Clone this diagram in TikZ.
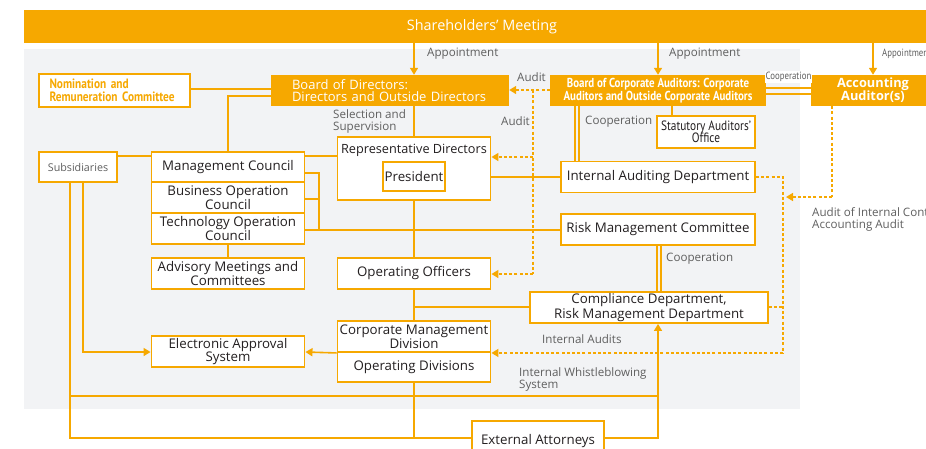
\documentclass[tikz,border=0pt]{standalone}
\usepackage{fontspec}
\setmainfont{Open Sans}
\newfontfamily\condfont[FakeStretch=0.84]{PT Sans}
\usetikzlibrary{arrows.meta,calc}
\definecolor{org}{RGB}{246,168,0}
\definecolor{bgc}{RGB}{242,243,245}
\definecolor{txt}{RGB}{35,31,32}
\definecolor{lblg}{RGB}{95,95,95}
\pgfdeclarelayer{bgl}
\pgfdeclarelayer{lines}
\pgfsetlayers{bgl,lines,main}
\tikzset{
  box/.style={draw=org, line width=1.9pt, fill=white, text=txt, align=center, inner sep=0pt,
    font=\fontsize{13.3}{12.2}\selectfont},
  obox/.style={fill=org, text=white, inner sep=0pt, align=center},
  ln/.style={draw=org, line width=1.6pt},
  arr/.style={ln, -{Triangle[length=7pt,width=8pt]}},
  dsh/.style={draw=org, line width=1.6pt, dash pattern=on 3pt off 2.2pt},
  darr/.style={dsh, -{Triangle[length=7pt,width=8pt]}},
  lbl/.style={text=lblg, inner sep=0pt, align=left, font=\fontsize{11.6}{11.6}\selectfont},
  slbl/.style={text=lblg, inner sep=0pt, align=left, font=\condfont\fontsize{10.5}{10.5}\selectfont},
}
\begin{document}
\begin{tikzpicture}[x=1pt,y=-1pt]
\useasboundingbox (0,0) rectangle (926,448);
\begin{pgfonlayer}{bgl}
\fill[bgc] (24,49) rectangle (800,409);
\end{pgfonlayer}

% top bar
\node[obox, minimum width=916pt, minimum height=33pt, font=\fontsize{14.4}{14}\selectfont] (sh) at (482,26.5) {Shareholders’ Meeting};

% orange header boxes
\node[obox, minimum width=238pt, minimum height=31pt, text width=196pt, inner xsep=21pt, align=left,
  font=\fontsize{13}{12.2}\selectfont] (bod) at (390,90.5) {Board of Directors:\\Directors and Outside Directors};
\node[obox, minimum width=216pt, minimum height=31pt, font=\condfont\bfseries\fontsize{13}{13}\selectfont] (bca) at (658,90.5) {Board of Corporate Auditors: Corporate\\Auditors and Outside Corporate Auditors};
\node[obox, minimum width=124pt, minimum height=31pt, font=\bfseries\fontsize{12.8}{13}\selectfont] (aa) at (873,90.5) {Accounting\\Auditor(s)};

% white boxes
\node[box, text=org, minimum width=151pt, minimum height=33pt, text width=130pt, inner xsep=10.5pt, align=left,
  font=\condfont\bfseries\fontsize{13.5}{13}\selectfont] (nrc) at (114.5,90.5) {Nomination and\\Remuneration Committee};
\node[box, minimum width=98pt, minimum height=32pt, font=\condfont\fontsize{13.5}{12.5}\selectfont] (sao) at (706,132) {Statutory Auditors’\\Office};
\node[box, minimum width=153pt, minimum height=63pt] (rd) at (414,168.5) {};
\node[text=txt, inner sep=0pt, font=\fontsize{12.7}{12}\selectfont] (rdt) at (414,150) {Representative Directors};
\node[box, minimum width=62pt, minimum height=29pt] (pres) at (414,176.5) {President};
\node[box, minimum width=194pt, minimum height=31pt] (iad) at (658,177) {Internal Auditing Department};
\node[box, text=lblg, minimum width=78pt, minimum height=30pt, font=\fontsize{10.7}{11}\selectfont] (sub) at (78,167) {Subsidiaries};
\node[box, minimum width=153pt, minimum height=30pt] (mc) at (228,167) {Management Council};
\node[box, minimum width=153pt, minimum height=31pt] (boc) at (228,197.5) {Business Operation\\Council};
\node[box, minimum width=153pt, minimum height=31pt] (toc) at (228,228.5) {Technology Operation\\Council};
\node[box, minimum width=153pt, minimum height=31pt] (adv) at (228,273.5) {Advisory Meetings and\\Committees};
\node[box, minimum width=153pt, minimum height=31pt] (oo) at (414,273.5) {Operating Officers};
\node[box, minimum width=194pt, minimum height=31pt] (rmc) at (658,229.5) {Risk Management Committee};
\node[box, minimum width=238pt, minimum height=31pt] (cmp) at (649,307.5) {Compliance Department,\\Risk Management Department};
\node[box, minimum width=153pt, minimum height=31pt] (cmd) at (414,336.5) {Corporate Management\\Division};
\node[box, minimum width=153pt, minimum height=30pt] (od) at (414,367) {Operating Divisions};
\node[box, minimum width=153pt, minimum height=31pt] (eas) at (228,351.5) {Electronic Approval\\System};
\node[box, minimum width=132pt, minimum height=40pt] (ea) at (538,441) {External Attorneys};

\coordinate (auv) at (533,90);
\coordinate (iav) at (783,177);
\coordinate (aav) at (832,197);
\coordinate (brk) at (319,173);
\coordinate (wb) at (658,396);
\coordinate (sl) at (70,182);
\coordinate (sr) at (83,182);

\begin{pgfonlayer}{lines}
% appointment arrows
\draw[arr] (sh.south -| rd.north) -- (bod.north -| rd.north);
\draw[arr] (sh.south -| bca.north) -- (bca.north);
\draw[arr] (sh.south -| aa.north) -- (aa.north);
% board connections
\draw[ln] (nrc.east |- 0,89) -- (bod.west |- 0,89);
\draw[ln] (bod.west |- 0,96) -| (mc.north);
\draw[ln] (bod.south -| rd.north) -- (rd.north);
\draw[ln] (bca.south -| 575,0) -- (iad.north -| 575,0);
\draw[ln] (bca.south -| 579,0) -- (iad.north -| 579,0);
\draw[ln] (bca.south -| 672,0) -- (sao.north -| 672,0);
\draw[ln] (bca.east |- 0,88) -- (aa.west |- 0,88);
\draw[ln] (bca.east |- 0,94) -- (aa.west |- 0,94);
% audit dashed
\draw[darr] (bca.west |- auv) -- (bod.east |- auv);
\draw[dsh] (auv) -- (auv |- 0,274);
\draw[darr] (auv |- 0,157) -- (rd.east |- 0,157);
\draw[darr] (auv |- 0,274) -- (oo.east |- 0,274);
% councils
\draw[ln] (sub.east |- 0,156) -- (mc.west |- 0,156);
\draw[ln] (mc.east |- 0,156) -- (rd.west |- 0,156);
\draw[ln] (mc.east |- brk) -- (brk) -- (brk |- 0,230);
\draw[ln] (boc.east |- 0,199) -- (brk |- 0,199);
\draw[ln] (toc.east |- 0,230) -- (rmc.west |- 0,230);
\draw[ln] (toc.south) -- (adv.north);
\draw[ln] (pres.east |- 0,177) -- (iad.west);
\draw[ln] (rd.south) -- (oo.north);
\draw[ln] (oo.south) -- (cmd.north);
\draw[ln] (oo.south |- 0,307) -- (cmp.west |- 0,307);
\draw[ln] (rmc.south -| 657,0) -- (cmp.north -| 657,0);
\draw[ln] (rmc.south -| 661,0) -- (cmp.north -| 661,0);
% internal audit dashed
\draw[dsh] (iad.east) -- (iav) -- (iav |- cmd.south east);
\draw[darr] (iav |- cmd.south east) -- (cmd.south east);
\draw[dsh] (cmp.east |- 0,307) -- (iav |- 0,307);
\draw[dsh] (aa.south -| aav) -- (aav);
\draw[darr] (aav) -- ($(aav -| iav)+(3,0)$);
% subsidiaries & approval
\draw[arr] (sl -| sr) |- (eas.west |- 0,352);
\draw[arr] (cmd.south west) -- (eas.east |- 0,352);
\draw[ln] (sl) |- (ea.west |- 0,438);
\draw[ln] (sl |- wb) -- (wb);
\draw[ln] (od.south) -- (od.south |- 0,438);
\draw[arr] (ea.east |- 0,438) -| (cmp.south -| wb);
\end{pgfonlayer}

% labels
\node[lbl, anchor=west] (l1) at (427,53.5) {Appointment};
\node[lbl, anchor=west] (l2) at (669,53.5) {Appointment};
\node[slbl, anchor=west] (l3) at (882,53.5) {Appointment};
\node[lbl, anchor=west] (l4) at (517,77.5) {Audit};
\node[slbl, fill=white, inner xsep=1pt, inner ysep=1.5pt] (l5) at (788.5,77) {Cooperation};
\node[lbl, anchor=north west, font=\fontsize{11.6}{11.8}\selectfont] (l6) at (333,109.5) {Selection and\\Supervision};
\node[lbl, anchor=west] (l7) at (501,121.5) {Audit};
\node[lbl, anchor=west] (l8) at (585,121.5) {Cooperation};
\node[lbl, anchor=west] (l9) at (666,258.5) {Cooperation};
\node[lbl, anchor=north west, font=\fontsize{11.6}{11.8}\selectfont] (l10) at (812,207.5) {Audit of Internal Control\\Accounting Audit};
\node[lbl, anchor=west] (l11) at (542,339.5) {Internal Audits};
\node[lbl, anchor=north west, font=\fontsize{11.6}{11.8}\selectfont] (l12) at (519,367.5) {Internal Whistleblowing\\System};
\end{tikzpicture}
\end{document}
